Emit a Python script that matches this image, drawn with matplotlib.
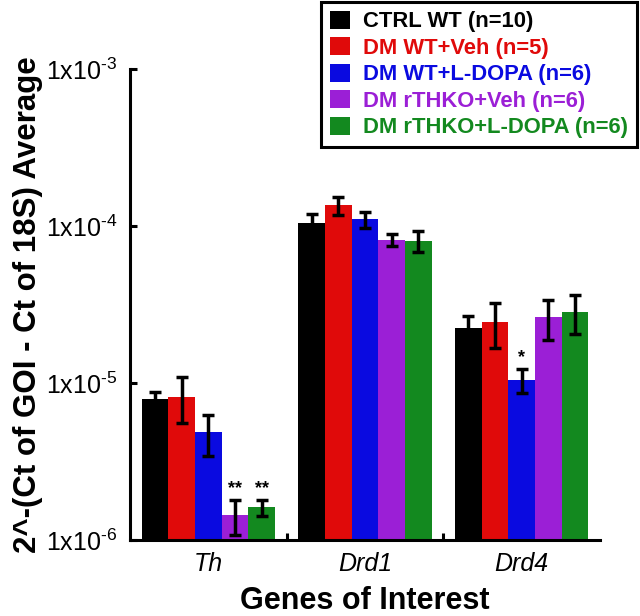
import matplotlib
matplotlib.use("Agg")
import numpy as np
import matplotlib.pyplot as plt
from matplotlib.ticker import FixedLocator, FixedFormatter, NullLocator

# data
genes = ["Th", "Drd1", "Drd4"]
groups = ["CTRL WT (n=10)", "DM WT+Veh (n=5)", "DM WT+L-DOPA (n=6)",
          "DM rTHKO+Veh (n=6)", "DM rTHKO+L-DOPA (n=6)"]
colors = ["#000000", "#e00a0a", "#0a0ae0", "#9b1fd6", "#13891f"]

ctrl_wt = [7.9e-6, 1.04e-4, 2.23e-5]
dm_wt_veh = [8.2e-6, 1.355e-4, 2.44e-5]
dm_wt_ldopa = [4.85e-6, 1.10e-4, 1.045e-5]
dm_ko_veh = [1.44e-6, 8.15e-5, 2.64e-5]
dm_ko_ldopa = [1.62e-6, 8.05e-5, 2.85e-5]

ctrl_wt_err = [0.9e-6, 0.15e-4, 0.45e-5]
dm_wt_veh_err = [2.65e-6, 0.18e-4, 0.78e-5]
dm_wt_ldopa_err = [1.4e-6, 0.13e-4, 1.8e-6]
dm_ko_veh_err = [0.36e-6, 0.68e-5, 0.75e-5]
dm_ko_ldopa_err = [0.19e-6, 1.2e-5, 0.8e-5]

# significance marks: (gene index, group index, label)
stars = [(0, 3, "**"), (0, 4, "**"), (2, 2, "*")]

yticks = [1e-6, 1e-5, 1e-4, 1e-3]
ytick_labels = ["1x10$^{\u20106}$", "1x10$^{\u20105}$",
                "1x10$^{\u20104}$", "1x10$^{\u20103}$"]

means = [ctrl_wt, dm_wt_veh, dm_wt_ldopa, dm_ko_veh, dm_ko_ldopa]
errs = [ctrl_wt_err, dm_wt_veh_err, dm_wt_ldopa_err, dm_ko_veh_err, dm_ko_ldopa_err]

plt.rcParams.update({
    "font.family": ["Liberation Sans", "DejaVu Sans"],
    "mathtext.fontset": "custom",
    "mathtext.rm": "Liberation Sans",
    "axes.linewidth": 2.2,
})

fig = plt.figure(figsize=(6.4, 6.16), dpi=100)
ax = fig.add_axes([0.203, 0.1234, 0.7345, 0.7646])

x = np.arange(len(genes))
w = 0.17
for i, (m, e, c, lab) in enumerate(zip(means, errs, colors, groups)):
    xi = x + (i - 2) * w
    ax.bar(xi, m, width=w, color=c, label=lab, zorder=2)
    ax.errorbar(xi, m, yerr=e, fmt="none", ecolor="black", elinewidth=2.5,
                capsize=4, capthick=2.5, zorder=3)

for g, k, s in stars:
    top = means[k][g] + errs[k][g]
    ax.text(x[g] + (k - 2) * w, top * 1.04, s, ha="center", va="bottom",
            fontsize=13, fontweight="bold")

ax.set_yscale("log")
ax.set_ylim(1e-6, 1e-3)
ax.set_xlim(-0.5, 2.5)
ax.yaxis.set_major_locator(FixedLocator(yticks))
ax.yaxis.set_major_formatter(FixedFormatter(ytick_labels))
ax.yaxis.set_minor_locator(NullLocator())
ax.tick_params(axis="y", direction="in", length=5, width=2.2, labelsize=18, pad=9)

ax.set_xticks(x)
ax.set_xticklabels(genes, fontstyle="italic", fontsize=18)
ax.set_xticks([0.5, 1.5], minor=True)
ax.tick_params(axis="x", which="major", length=0, pad=9)
ax.tick_params(axis="x", which="minor", direction="in", length=5, width=2.2)

ax.spines["top"].set_visible(False)
ax.spines["right"].set_visible(False)

ax.set_xlabel("Genes of Interest", fontsize=22, fontweight="bold", labelpad=7)
ax.set_ylabel("2^-(Ct of GOI - Ct of 18S) Average", fontsize=22.5,
              fontweight="bold", labelpad=2)

leg = fig.legend(loc="upper right", bbox_to_anchor=(0.995, 0.997),
                 borderaxespad=0, labelcolor=colors,
                 prop={"weight": "bold", "size": 15.8},
                 handlelength=0.9, handleheight=0.9, handletextpad=0.6,
                 labelspacing=0.22, borderpad=0.4, fancybox=False,
                 edgecolor="black", framealpha=1)
leg.get_frame().set_linewidth(2.2)

fig.savefig("out.png", dpi=100)
